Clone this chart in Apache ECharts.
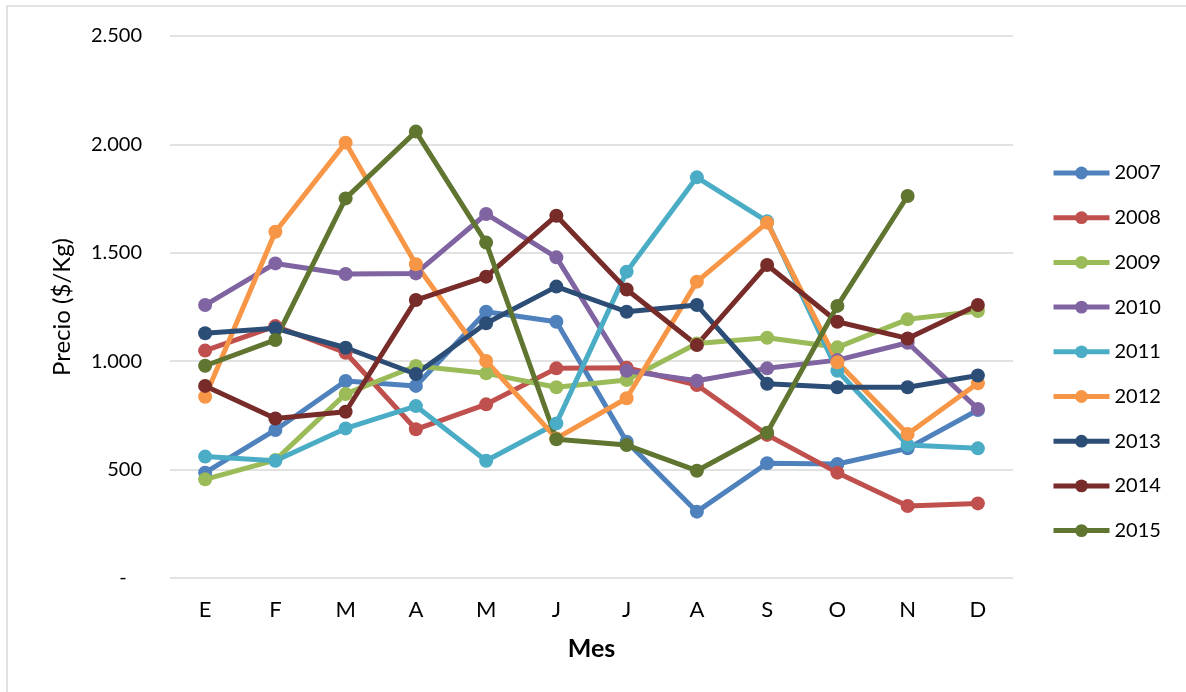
<!DOCTYPE html>
<html>
<head>
<meta charset="utf-8">
<style>
  html, body { margin: 0; padding: 0; background: #ffffff; }
  #chart { width: 1186px; height: 692px; }
</style>
<script src="https://cdn.jsdelivr.net/npm/echarts@6/dist/echarts.min.js"></script>
</head>
<body>
<div id="chart"></div>
<script>
// Monthly price ($/Kg), one line per year
const months = ['E', 'F', 'M', 'A', 'M', 'J', 'J', 'A', 'S', 'O', 'N', 'D'];
const years = ['2007', '2008', '2009', '2010', '2011', '2012', '2013', '2014', '2015'];

const p2007 = [486, 683, 909, 886, 1228, 1182, 629, 306, 529, 526, 598, 775];
const p2008 = [1049, 1162, 1039, 686, 801, 967, 970, 890, 660, 486, 332, 344];
const p2009 = [455, 544, 849, 978, 944, 880, 913, 1082, 1108, 1064, 1193, 1231];
const p2010 = [1259, 1451, 1402, 1405, 1679, 1479, 956, 910, 967, 1005, 1085, 780];
const p2011 = [560, 541, 690, 793, 541, 713, 1413, 1848, 1645, 956, 613, 598];
const p2012 = [836, 1597, 2008, 1447, 1001, 644, 829, 1367, 1639, 995, 664, 898];
const p2013 = [1129, 1152, 1062, 941, 1175, 1344, 1228, 1259, 896, 880, 880, 934];
const p2014 = [886, 736, 767, 1282, 1390, 1671, 1331, 1075, 1444, 1182, 1105, 1259];
const p2015 = [979, 1098, 1751, 2059, 1547, 640, 613, 495, 670, 1255, 1762, null];

const yTicks = [0, 500, 1000, 1500, 2000, 2500];

const palette = ['#4f81bd', '#c0504d', '#9bbb59', '#8064a2', '#4bacc6',
                 '#f79646', '#2c4d75', '#772c2a', '#5f7530'];
const values = [p2007, p2008, p2009, p2010, p2011, p2012, p2013, p2014, p2015];

const FONT = 'Lato, "Open Sans", sans-serif';
const LINE_W = 5;

function fmtTick(v) {
  if (v === 0) return '-   ';
  return String(v).replace(/\B(?=(\d{3})+(?!\d))/g, '.');
}

const series = years.map((y, i) => ({
  name: y,
  type: 'line',
  data: values[i],
  symbol: 'circle',
  symbolSize: 14,
  connectNulls: false,
  lineStyle: { width: LINE_W, color: palette[i] },
  itemStyle: { color: palette[i] },
  emphasis: { disabled: true },
  animation: false
}));

const chart = echarts.init(document.getElementById('chart'));
chart.setOption({
  backgroundColor: '#ffffff',
  color: palette,
  textStyle: { fontFamily: FONT },
  grid: { left: 170, right: 173, top: 36, bottom: 114 },
  graphic: [{
    type: 'rect',
    shape: { x: 7, y: 6, width: 1200, height: 720 },
    style: { fill: 'none', stroke: '#d9d9d9', lineWidth: 1.5 },
    silent: true
  }],
  legend: {
    orient: 'vertical',
    left: 1046,
    top: 158,
    itemWidth: 56,
    itemHeight: 16,
    itemGap: 24.7,
    lineStyle: { width: LINE_W },
    textStyle: { fontFamily: FONT, fontSize: 20, color: '#000000' },
    data: years
  },
  xAxis: {
    type: 'category',
    data: months,
    boundaryGap: true,
    axisLine: { show: false },
    axisTick: { show: false },
    axisLabel: { fontFamily: FONT, fontSize: 22, color: '#000000', margin: 21 },
    name: 'Mes',
    nameLocation: 'middle',
    nameGap: 58,
    nameTextStyle: { fontFamily: FONT, fontSize: 25, fontWeight: 'bold', color: '#000000' }
  },
  yAxis: {
    type: 'value',
    min: yTicks[0],
    max: yTicks[yTicks.length - 1],
    interval: 500,
    axisLine: { show: false },
    axisTick: { show: false },
    splitLine: { lineStyle: { color: '#d9d9d9', width: 1.5 } },
    axisLabel: { fontFamily: FONT, fontSize: 20, color: '#000000', margin: 28, formatter: fmtTick },
    name: 'Precio ($/Kg)',
    nameLocation: 'middle',
    nameGap: 96,
    nameRotate: 90,
    nameTextStyle: { fontFamily: FONT, fontSize: 24, color: '#000000' }
  },
  series: series
});
</script>
</body>
</html>
